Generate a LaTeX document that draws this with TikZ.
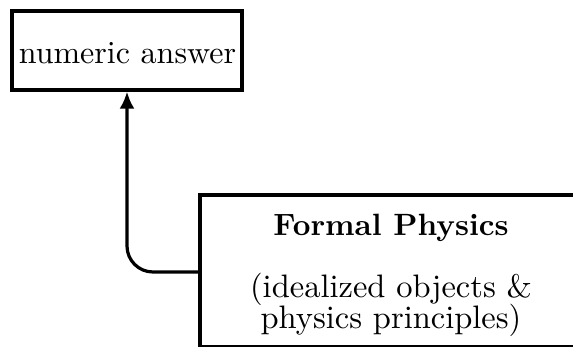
\documentclass[tikz,border=0pt]{standalone}
\usetikzlibrary{arrows.meta}
\begin{document}
\begin{tikzpicture}[x=1pt,y=-1pt,
  boxstyle/.style={draw=black,line width=3.2pt,inner sep=0pt},
  conn/.style={draw=black,line width=3.2pt,rounded corners=26pt,-{Latex[length=17pt,width=15pt]}},
  txt/.style={inner sep=0pt}]
\useasboundingbox (0,0) rectangle (573,346);
\node[boxstyle,minimum width=230pt,minimum height=79pt] (ans) at (127,50.5) {};
\node[txt,anchor=base] (anstxt) at (127.5,63) {\scalebox{3.2}{numeric answer}};
\begin{scope}
\clip (0,0) rectangle (573,346);
\draw[boxstyle] (600,195) -- (200,195) -- (200,347) -- (600,347);
\end{scope}
\coordinate (fp) at (200,272);
\node[txt,anchor=base] (t1) at (391,235) {\scalebox{3.08}{\bfseries Formal Physics}};
\node[txt,anchor=base] (t2) at (391,297) {\scalebox{3.25}{(idealized objects \&}};
\node[txt,anchor=base] (t3) at (391,328) {\scalebox{3.25}{physics principles)}};
\draw[conn] (fp) -| (ans.south);
\end{tikzpicture}
\end{document}
